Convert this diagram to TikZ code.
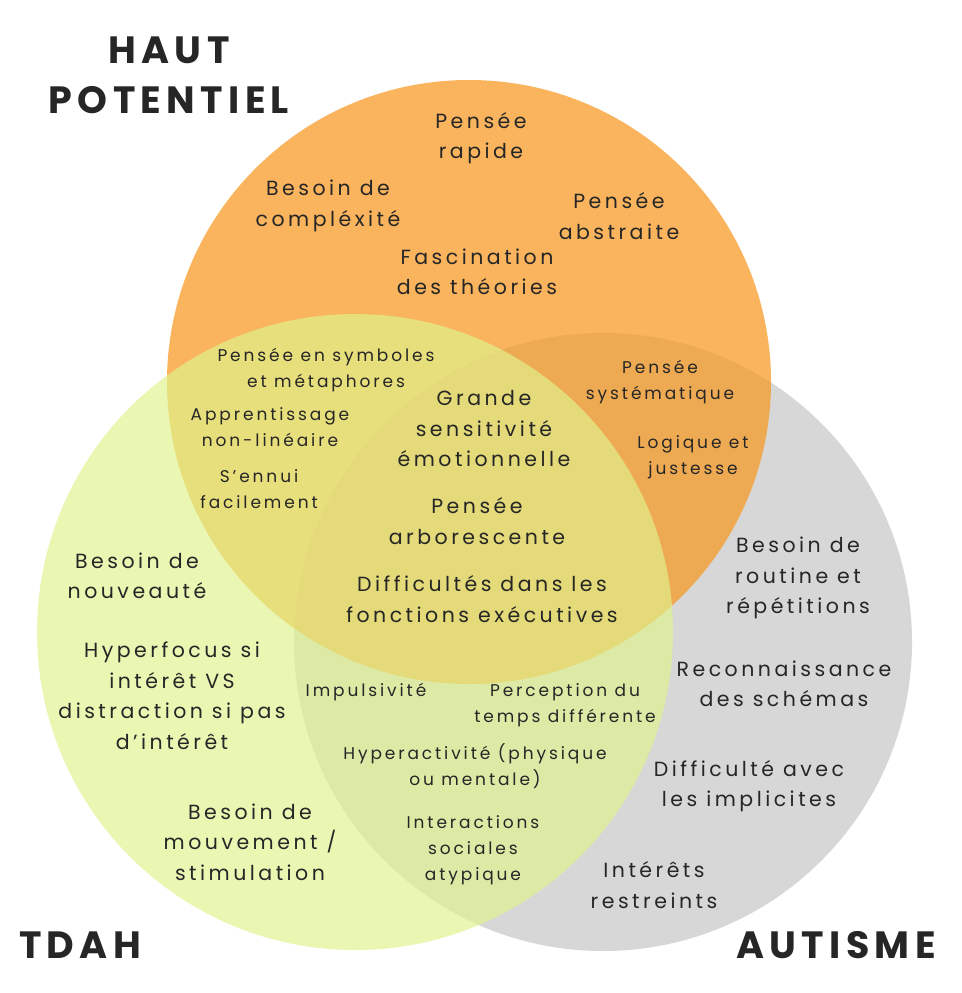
\documentclass[tikz,border=0pt]{standalone}
\usepackage{fontspec}
\newfontfamily\labfont{Poppins}[LetterSpace=17]
\newfontfamily\titlefont{Poppins}[LetterSpace=14]
\definecolor{grayc}{RGB}{215,215,215}
\definecolor{orangec}{RGB}{247,156,40}
\definecolor{greenc}{RGB}{223,244,141}
\definecolor{textc}{RGB}{38,38,38}
\tikzset{
  biglab/.style={align=center, inner sep=0pt, text=textc, font=\labfont\fontsize{20.5}{30.5}\selectfont},
  smalllab/.style={align=center, inner sep=0pt, text=textc, font=\labfont\fontsize{17}{26}\selectfont},
  titlelab/.style={align=center, inner sep=0pt, text=textc, font=\titlefont\bfseries\fontsize{38}{50}\selectfont},
}
\begin{document}
\begin{tikzpicture}[x=1pt,y=-1pt]
\useasboundingbox (0,0) rectangle (961,993);
\fill[white] (0,0) rectangle (961,993);
% circles
\fill[grayc] (603,642) circle (309);
\fill[orangec, fill opacity=0.75] (469,382) circle (302);
\fill[greenc, fill opacity=0.66] (355,632) circle (318);
% titles
\node[titlelab] (hp) at (169,75) {HAUT\\POTENTIEL};
\node[titlelab] (tdah) at (80,945) {TDAH};
\node[titlelab] (aut) at (836,945) {AUTISME};
% orange only
\node[biglab] (rap) at (481,138) {Pensée\\rapide};
\node[biglab] (comp) at (328,206) {Besoin de\\compléxité};
\node[biglab] (abs) at (619,216) {Pensée\\abstraite};
\node[biglab] (fasc) at (477,272) {Fascination\\des théories};
% orange-green
\node[smalllab] (symb) at (326,370) {Pensée en symboles\\et métaphores};
\node[smalllab] (appr) at (270,427) {Apprentissage\\non-linéaire};
\node[smalllab] (ennui) at (259,489) {S’ennui\\facilement};
% orange-gray
\node[smalllab] (syst) at (660,382) {Pensée\\systématique};
\node[smalllab] (log) at (693,457) {Logique et\\justesse};
% center
\node[biglab] (gde) at (484,429) {Grande\\sensitivité\\émotionnelle};
\node[biglab] (arb) at (477,521) {Pensée\\arborescente};
\node[biglab] (diff) at (482,599) {Difficultés dans les\\fonctions exécutives};
% green only
\node[biglab] (nouv) at (137,576) {Besoin de\\nouveauté};
\node[biglab] (hyp) at (172,696) {Hyperfocus si\\intérêt VS\\distraction si pas\\d’intérêt};
\node[biglab] (mouv) at (250,842) {Besoin de\\mouvement /\\stimulation};
% green-gray
\node[smalllab] (imp) at (366,692) {Impulsivité};
\node[smalllab] (perc) at (565,705) {Perception du\\temps différente};
\node[smalllab] (hypa) at (475,766) {Hyperactivité (physique\\ou mentale)};
\node[smalllab] (inter) at (473,850) {Interactions\\sociales\\atypique};
% gray only
\node[biglab] (rout) at (798,578) {Besoin de\\routine et\\répétitions};
\node[biglab] (reco) at (784,684) {Reconnaissance\\des schémas};
\node[biglab] (impl) at (749,786) {Difficulté avec\\les implicites};
\node[biglab] (restr) at (654,885) {Intérêts\\restreints};
\end{tikzpicture}
\end{document}
